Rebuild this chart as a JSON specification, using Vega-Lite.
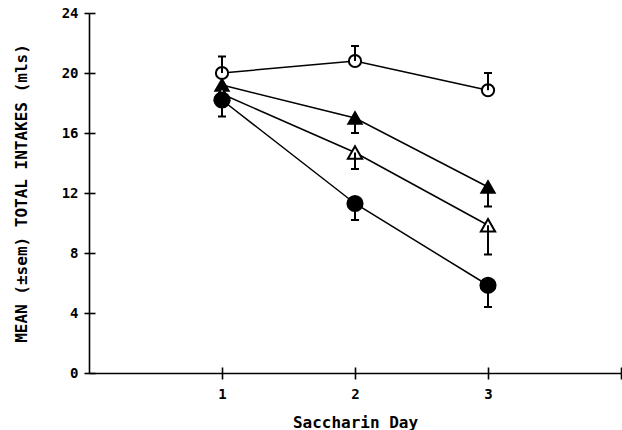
{
  "$schema": "https://vega.github.io/schema/vega-lite/v6.json",
  "autosize": "none",
  "width": 532,
  "height": 360,
  "padding": {"left": 89, "top": 13, "right": 1, "bottom": 57},
  "background": "white",
  "config": {
    "view": {"stroke": null},
    "axis": {
      "labelFont": "DejaVu Sans Mono",
      "labelFontWeight": "bold",
      "labelFontSize": 14,
      "labelColor": "#000",
      "titleFont": "DejaVu Sans Mono",
      "titleFontWeight": "bold",
      "titleFontSize": 16,
      "titleColor": "#000",
      "domainColor": "#000",
      "domainWidth": 1.6,
      "tickColor": "#000",
      "tickWidth": 1.6,
      "grid": false
    }
  },
  "data": {
    "values": [
      {"group": "OC", "day": 1, "mean": 20.0, "end": 21.1},
      {"group": "OC", "day": 2, "mean": 20.8, "end": 21.8},
      {"group": "OC", "day": 3, "mean": 18.85, "end": 20.0},
      {"group": "FT", "day": 1, "mean": 19.2, "end": null},
      {"group": "FT", "day": 2, "mean": 17.0, "end": 16.0},
      {"group": "FT", "day": 3, "mean": 12.4, "end": 11.1},
      {"group": "OT", "day": 1, "mean": 18.6, "end": null},
      {"group": "OT", "day": 2, "mean": 14.7, "end": 13.6},
      {"group": "OT", "day": 3, "mean": 9.85, "end": 7.9},
      {"group": "FC", "day": 1, "mean": 18.2, "end": 17.1},
      {"group": "FC", "day": 2, "mean": 11.3, "end": 10.2},
      {"group": "FC", "day": 3, "mean": 5.85, "end": 4.4}
    ]
  },
  "resolve": {"axis": {"x": "independent", "y": "independent"}},
  "layer": [
    {
      "mark": {"type": "line", "color": "#000", "strokeWidth": 1.5},
      "encoding": {
        "x": {"field": "day", "type": "quantitative",
              "scale": {"domain": [0, 4], "nice": false, "zero": false},
              "axis": {"orient": "bottom", "values": [1, 2, 3, 4], "tickSize": 6,
                       "labelExpr": "datum.value == 4 ? '' : datum.label",
                       "labelPadding": 8, "title": "Saccharin Day", "titlePadding": 13}},
        "y": {"field": "mean", "type": "quantitative",
              "scale": {"domain": [0, 24], "nice": false},
              "axis": {"orient": "left", "values": [0, 4, 8, 12, 16, 20, 24], "tickSize": 5,
                       "labelPadding": 6, "title": "MEAN (±sem) TOTAL INTAKES (mls)", "titlePadding": 32}},
        "detail": {"field": "group", "type": "nominal"}
      }
    },
    {
      "mark": {"type": "point", "filled": false, "opacity": 1, "strokeWidth": 2, "stroke": "#000"},
      "encoding": {
        "x": {"field": "day", "type": "quantitative", "axis": null},
        "y": {"field": "mean", "type": "quantitative", "axis": null},
        "shape": {"field": "group", "type": "nominal", "legend": null,
                  "scale": {"domain": ["OC", "FT", "OT", "FC"], "range": ["circle", "triangle-up", "triangle-up", "circle"]}},
        "fill": {"field": "group", "type": "nominal", "legend": null,
                 "scale": {"domain": ["OC", "FT", "OT", "FC"], "range": ["#fff", "#000", "#fff", "#000"]}},
        "size": {"field": "group", "type": "nominal", "legend": null,
                 "scale": {"domain": ["OC", "FT", "OT", "FC"], "range": [150, 230, 230, 150]}}
      }
    },
    {
      "transform": [{"filter": "datum.end != null"}],
      "mark": {"type": "rule", "color": "#000", "strokeWidth": 2},
      "encoding": {
        "x": {"field": "day", "type": "quantitative",
              "axis": {"orient": "top", "offset": -360, "values": [1, 2, 3, 4], "tickSize": 6,
                       "labels": false, "domain": false, "title": null}},
        "y": {"field": "mean", "type": "quantitative",
              "axis": {"orient": "right", "offset": -532, "values": [0, 4, 8, 12, 16, 20, 24], "tickSize": 6,
                       "labels": false, "domain": false, "title": null}},
        "y2": {"field": "end"}
      }
    },
    {
      "transform": [{"filter": "datum.end != null"}],
      "mark": {"type": "tick", "orient": "horizontal", "color": "#000", "size": 8, "thickness": 2, "opacity": 1},
      "encoding": {
        "x": {"field": "day", "type": "quantitative", "axis": null},
        "y": {"field": "end", "type": "quantitative", "axis": null}
      }
    }
  ]
}
